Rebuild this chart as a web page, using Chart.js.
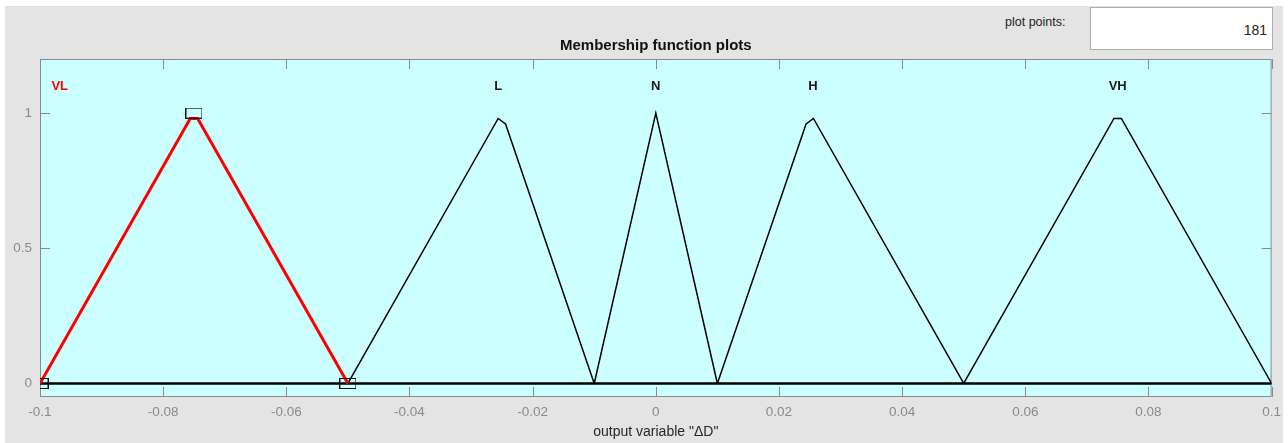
<!DOCTYPE html>
<html>
<head>
<meta charset="utf-8">
<title>Membership function plots</title>
<script src="https://cdn.jsdelivr.net/npm/chart.js@4.4.1/dist/chart.umd.min.js"></script>
<style>
  body { margin: 0; background: #fff; font-family: Arial, "Liberation Sans", sans-serif; }
  #panel { position: absolute; left: 5px; top: 6px; width: 1278px; height: 437px; background: #e4e4e4; }
  #pointsLabel { position: absolute; left: 1005px; top: 15px; font-size: 12.5px; color: #222; }
  #pointsBox {
    position: absolute; left: 1090px; top: 7px; width: 181px; height: 41px;
    background: #fff; border: 1px solid #adadad;
    font-size: 14px; color: #222; text-align: right; line-height: 44px;
  }
  #pointsBox span { padding-right: 5px; }
  #wrap { position: absolute; left: 0; top: 0; width: 1288px; height: 443px; }
</style>
</head>
<body>
<div id="panel"></div>
<div id="pointsLabel">plot points:</div>
<div id="pointsBox"><span>181</span></div>
<div id="wrap"><canvas id="mfChart" width="1288" height="443"></canvas></div>
<script>
// membership functions of the output variable, sampled vertices
const vlX = [-0.1, -0.0756, -0.0744, -0.05];
const vlY = [0, 0.98, 0.98, 0];
const lX = [-0.05, -0.0256, -0.0244, -0.01];
const lY = [0, 0.98, 0.96, 0];
const nX = [-0.01, 0, 0.01];
const nY = [0, 1, 0];
const hX = [0.01, 0.0244, 0.0256, 0.05];
const hY = [0, 0.96, 0.98, 0];
const vhX = [0.05, 0.0744, 0.0756, 0.1];
const vhY = [0, 0.98, 0.98, 0];
const baseX = [-0.1, 0.1];
const baseY = [0, 0];

// drag handles of the selected function (VL)
const handleX = [-0.1, -0.075, -0.05];
const handleY = [0, 1, 0];

const mfNames = ['VL', 'L', 'N', 'H', 'VH'];
const labelX = [-0.0968, -0.0256, 0, 0.0255, 0.075];
const labelY = 1.1;

const xTickValues = [-0.1, -0.08, -0.06, -0.04, -0.02, 0, 0.02, 0.04, 0.06, 0.08, 0.1];
const xTickLabels = ['-0.1', '-0.08', '-0.06', '-0.04', '-0.02', '0', '0.02', '0.04', '0.06', '0.08', '0.1'];
const yTickValues = [0, 0.5, 1];
const yTickLabels = ['0', '0.5', '1'];

const plotTitle = 'Membership function plots';

const toPoints = (xs, ys) => xs.map((x, i) => ({ x, y: ys[i] }));
const fontFamily = 'Arial, "Liberation Sans", sans-serif';

// small rectangle used as the handle marker
const handleImg = document.createElement('canvas');
handleImg.width = 17;
handleImg.height = 11;
const hctx = handleImg.getContext('2d');
hctx.strokeStyle = '#111';
hctx.lineWidth = 1;
hctx.strokeRect(0.5, 0.5, 16, 10);

const axisGrey = '#8a8a8a';

const framePlugin = {
    id: 'frame',
    beforeDatasetsDraw(chart) {
        const { ctx, chartArea: a, scales } = chart;
        ctx.save();
        ctx.fillStyle = '#ccffff';
        ctx.fillRect(a.left, a.top, a.width, a.height);
        ctx.strokeStyle = axisGrey;
        ctx.lineWidth = 1;
        ctx.strokeRect(a.left + 0.5, a.top + 0.5, a.width - 1, a.height - 1);
        ctx.beginPath();
        xTickValues.forEach(v => {
            const px = Math.round(scales.x.getPixelForValue(v)) + 0.5;
            ctx.moveTo(px, a.bottom); ctx.lineTo(px, a.bottom - 10);
            ctx.moveTo(px, a.top); ctx.lineTo(px, a.top + 10);
        });
        yTickValues.forEach(v => {
            const py = Math.round(scales.y.getPixelForValue(v)) + 0.5;
            ctx.moveTo(a.left, py); ctx.lineTo(a.left + 10, py);
            ctx.moveTo(a.right, py); ctx.lineTo(a.right - 10, py);
        });
        ctx.stroke();

        // title sits centred over the plot box
        ctx.fillStyle = '#111';
        ctx.font = 'bold 15px ' + fontFamily;
        ctx.textAlign = 'center';
        ctx.textBaseline = 'middle';
        ctx.fillText(plotTitle, (a.left + a.right) / 2, a.top - 13);
        ctx.restore();
    },
    afterDatasetsDraw(chart) {
        const { ctx, scales } = chart;
        ctx.save();
        ctx.font = 'bold 13px ' + fontFamily;
        ctx.textAlign = 'center';
        ctx.textBaseline = 'middle';
        mfNames.forEach((name, i) => {
            ctx.fillStyle = i === 0 ? '#ff0000' : '#1a1a1a';
            ctx.fillText(name, scales.x.getPixelForValue(labelX[i]), scales.y.getPixelForValue(labelY));
        });
        ctx.restore();
    }
};

const lineSet = (xs, ys, color, width, order) => ({
    data: toPoints(xs, ys),
    borderColor: color,
    borderWidth: width,
    pointRadius: 0,
    tension: 0,
    order
});

new Chart(document.getElementById('mfChart'), {
    type: 'line',
    data: {
        datasets: [
            {
                data: toPoints(handleX, handleY),
                showLine: false,
                pointStyle: handleImg,
                pointRadius: 6,
                clip: { left: 0, top: false, right: false, bottom: false },
                order: 0
            },
            lineSet(vlX, vlY, '#ff0000', 3, 1),
            lineSet(lX, lY, '#000000', 1.5, 2),
            lineSet(nX, nY, '#000000', 1.5, 2),
            lineSet(hX, hY, '#000000', 1.5, 2),
            lineSet(vhX, vhY, '#000000', 1.5, 2),
            lineSet(baseX, baseY, '#000000', 2.5, 3)
        ]
    },
    options: {
        responsive: false,
        animation: false,
        layout: { padding: { left: 0, right: 13, top: 59, bottom: 0 } },
        plugins: {
            legend: { display: false },
            tooltip: { enabled: false },
            title: { display: false }
        },
        scales: {
            x: {
                type: 'linear',
                min: -0.1,
                max: 0.1,
                afterBuildTicks: scale => { scale.ticks = xTickValues.map(v => ({ value: v })); },
                afterFit: scale => { scale.height = 46; },
                grid: { display: false, drawTicks: false },
                border: { display: false },
                ticks: {
                    autoSkip: false,
                    maxRotation: 0,
                    padding: 7,
                    color: axisGrey,
                    font: { family: fontFamily, size: 13.5 },
                    callback: (v, i) => xTickLabels[i]
                },
                title: {
                    display: true,
                    text: 'output variable "ΔD"',
                    color: '#262626',
                    font: { family: fontFamily, size: 14 },
                    padding: { top: 2, bottom: 2 }
                }
            },
            y: {
                type: 'linear',
                min: -0.05,
                max: 1.2,
                afterBuildTicks: scale => { scale.ticks = yTickValues.map(v => ({ value: v })); },
                afterFit: scale => { scale.width = 40; },
                grid: { display: false, drawTicks: false },
                border: { display: false },
                ticks: {
                    padding: 8,
                    color: axisGrey,
                    font: { family: fontFamily, size: 13.5 },
                    callback: (v, i) => yTickLabels[i]
                }
            }
        }
    },
    plugins: [framePlugin]
});
</script>
</body>
</html>
